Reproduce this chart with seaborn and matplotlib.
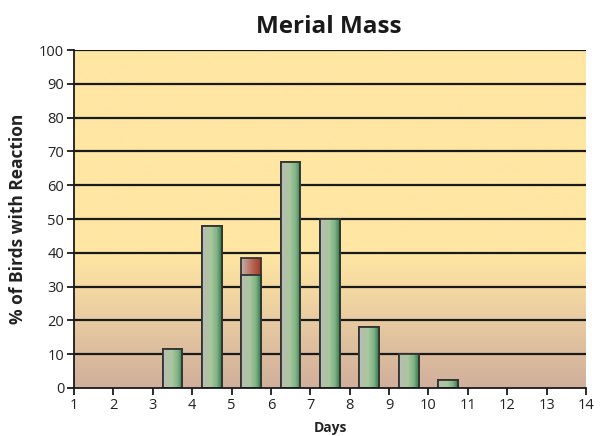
import numpy as np
import pandas as pd
import matplotlib
matplotlib.use("Agg")
import matplotlib.pyplot as plt
from matplotlib.colors import LinearSegmentedColormap
import seaborn as sns

# ------ DATA ------
days = [3.5, 4.5, 5.5, 6.5, 7.5, 8.5, 9.5, 10.5]
green_pct = [11.5, 48, 33.5, 67, 50, 18, 10, 2.5]
red_pct = [0, 0, 5, 0, 0, 0, 0, 0]
x_ticks = list(range(1, 15))
y_ticks = list(range(0, 101, 10))

df = pd.DataFrame({"Days": days, "green": green_pct, "red": red_pct})
df["total"] = df["green"] + df["red"]

sns.set_style("white")
plt.rcParams["font.family"] = ["Open Sans", "DejaVu Sans"]

fig = plt.figure(figsize=(6.08, 4.36), dpi=100)
ax = fig.add_axes([0.1217, 0.1101, 0.842, 0.7752])

# background gradient (flat yellow above 40, fading to tan at 0)
bg_cmap = LinearSegmentedColormap.from_list(
    "bg", [(0.0, "#d1af9c"), (0.1, "#dcbc9e"), (0.2, "#e8cba1"),
           (0.3, "#f5daa2"), (0.4, "#ffe6a3"), (1.0, "#ffe6a3")])
grad = np.linspace(0, 1, 256).reshape(-1, 1)
ax.imshow(grad, extent=[1, 14, 0, 100], origin="lower", aspect="auto",
          cmap=bg_cmap, zorder=0)

# horizontal grid lines
for yv in y_ticks[1:]:
    ax.axhline(yv, color="#1a1a1a", lw=1.6, zorder=1)

# bars: red top part drawn as full total, green on top of it
sns.barplot(data=df, x="Days", y="total", native_scale=True, width=0.5,
            color="#a84a35", edgecolor="#333333", linewidth=1.3, ax=ax,
            zorder=2)
n_red = len(ax.patches)
sns.barplot(data=df, x="Days", y="green", native_scale=True, width=0.5,
            color="#5f9e6e", edgecolor="#333333", linewidth=1.3, ax=ax,
            zorder=3)

green_cmap = LinearSegmentedColormap.from_list(
    "gbar", [(0.0, "#b9bcb6"), (0.45, "#a9c79c"), (0.75, "#7fb386"), (1.0, "#2f7a48")])
red_cmap = LinearSegmentedColormap.from_list(
    "rbar", [(0.0, "#c2b2ad"), (0.5, "#b9705c"), (1.0, "#a2372a")])
hgrad = np.linspace(0, 1, 256).reshape(1, -1)

for i, p in enumerate(list(ax.patches)):
    if p.get_height() <= 0:
        continue
    cm = red_cmap if i < n_red else green_cmap
    z = 2 if i < n_red else 3
    x0, y0, w, h = p.get_x(), p.get_y(), p.get_width(), p.get_height()
    im = ax.imshow(hgrad, extent=[x0, x0 + w, y0, y0 + h], origin="lower",
                   aspect="auto", cmap=cm, zorder=z + 0.1)
    im.set_clip_path(p)
    p.set_facecolor("none")
    p.set_zorder(z + 0.2)

ax.set_xlim(1, 14)
ax.set_ylim(0, 100)
ax.set_xticks(x_ticks)
ax.set_yticks(y_ticks)
ax.tick_params(axis="both", direction="out", length=5, width=1.3,
               color="#1a1a1a", labelsize=10.5, labelcolor="#222222",
               bottom=True, left=True, pad=2)
for s in ["top", "right"]:
    ax.spines[s].set_visible(False)
for s in ["left", "bottom"]:
    ax.spines[s].set_color("#1a1a1a")
    ax.spines[s].set_linewidth(1.3)
    ax.spines[s].set_zorder(5)

ax.set_xlabel("Days", fontsize=10, fontweight="bold", color="#222222", labelpad=6)
ax.set_ylabel("% of Birds with Reaction", fontsize=12.5, fontweight="bold",
              color="#222222", labelpad=9)
fig.text(0.54, 0.938, "Merial Mass", ha="center", va="center",
         fontsize=17.5, fontweight="bold", color="#1a1a1a")

fig.savefig("out.png", dpi=100)
